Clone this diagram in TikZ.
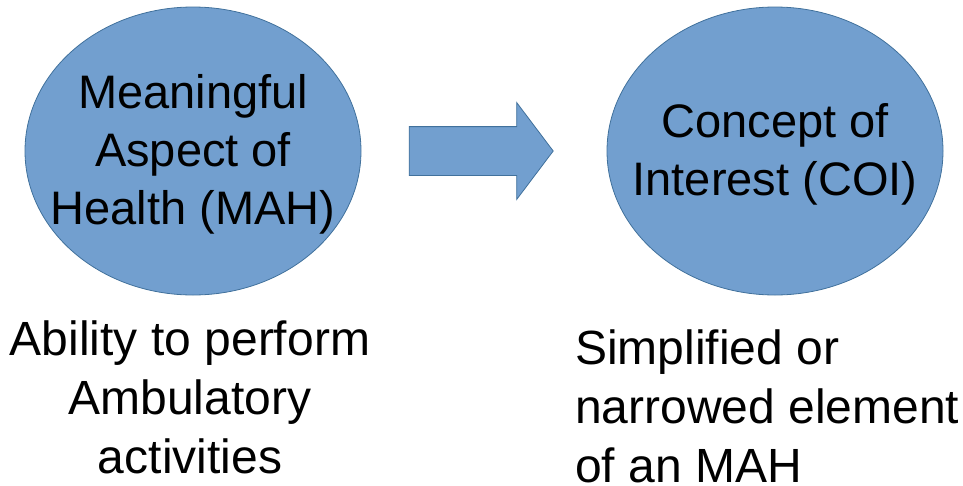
\documentclass[tikz,border=0pt]{standalone}
\usepackage{fontspec}
\setmainfont{Liberation Sans}
\usetikzlibrary{shapes.geometric,shapes.arrows}
\definecolor{blobfill}{RGB}{114,159,207}
\definecolor{blobline}{RGB}{65,113,156}

\begin{document}
\begin{tikzpicture}[x=1pt,y=-1pt,
    blob/.style={ellipse,draw=blobline,fill=blobfill,line width=0.8pt,
      minimum width=336pt,minimum height=288pt,inner sep=0pt},
    blobtext/.style={align=center,inner sep=0pt,yshift=-3pt,
      font=\fontsize{47}{58}\selectfont},
    bigarrow/.style={single arrow,draw=blobline,fill=blobfill,line width=0.8pt,
      minimum height=144pt,inner xsep=0pt,inner ysep=24pt,
      single arrow head extend=24pt,single arrow tip angle=106},
    caption/.style={font=\fontsize{48}{59}\selectfont,inner sep=0pt}]
  \useasboundingbox (0,0) rectangle (963,485);
  \node[blob] (mah) at (193,151) {};
  \node[blobtext] (mahlabel) at (mah.center) {Meaningful\\Aspect of\\Health (MAH)};
  \node[blob] (coi) at (775,151) {};
  \node[blobtext] (coilabel) at (coi.center) {Concept of\\Interest (COI)};
  \node[bigarrow] (step1) at (472,151) {};
  \node[caption,align=center,anchor=base] (mahtext) at (190,473)
    {Ability to perform\\Ambulatory\\activities};
  \node[caption,align=left,anchor=base west] (coitext) at (575,482)
    {Simplified or\\narrowed element\\of an MAH};
\end{tikzpicture}
\end{document}
